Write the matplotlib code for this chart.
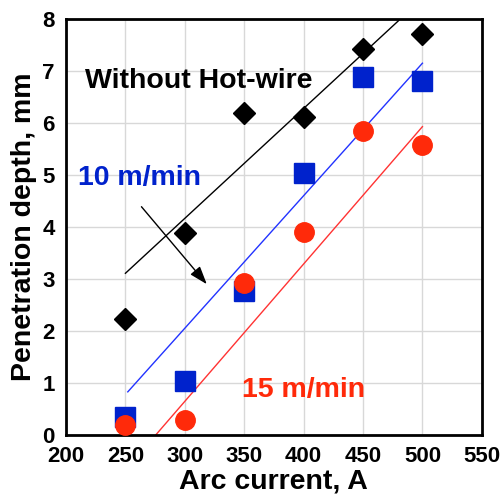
import matplotlib.pyplot as plt

plt.rcParams['font.family'] = ['Liberation Sans', 'DejaVu Sans']
plt.rcParams['font.weight'] = 'bold'

# --- Data ---
current = [250, 300, 350, 400, 450, 500]
depth_no_wire = [2.24, 3.88, 6.19, 6.11, 7.42, 7.72]
depth_10 = [0.35, 1.03, 2.76, 5.03, 6.89, 6.81]
depth_15 = [0.19, 0.28, 2.92, 3.91, 5.85, 5.58]

# trend lines (end points as drawn in the figure)
fit_no_wire_x = [250, 480]
fit_no_wire_y = [3.11, 7.97]
fit_10_x = [252, 500]
fit_10_y = [0.83, 7.15]
fit_15_x = [275.5, 500]
fit_15_y = [0.0, 5.93]

blue = '#0022cc'
red = '#ff2a0a'

fig = plt.figure(figsize=(5.04, 5.0), dpi=100)
ax = fig.add_axes([0.131, 0.13, 0.825, 0.832])

ax.plot(fit_no_wire_x, fit_no_wire_y, color='black', lw=1.0, zorder=2)
ax.plot(fit_10_x, fit_10_y, color='#2233ff', lw=1.0, zorder=2)
ax.plot(fit_15_x, fit_15_y, color='#ff3333', lw=1.0, zorder=2)

ax.plot(current, depth_no_wire, 'D', color='black', markersize=11.5, zorder=3)
ax.plot(current, depth_10, 's', color=blue, markersize=15, zorder=3)
ax.plot(current, depth_15, 'o', color=red, markersize=14, zorder=4)

ax.text(216, 6.81, 'Without Hot-wire', fontsize=20.5, fontweight='bold',
        color='black', va='center', ha='left')
ax.text(210.5, 4.95, '10 m/min', fontsize=20.5, fontweight='bold',
        color=blue, va='center', ha='left')
ax.text(348, 0.87, '15 m/min', fontsize=20.5, fontweight='bold',
        color=red, va='center', ha='left')

ax.annotate('', xy=(318.5, 2.9), xytext=(263.5, 4.39),
            arrowprops=dict(arrowstyle='-|>,head_length=1.1,head_width=0.38',
                            color='black', lw=1.0, shrinkA=0, shrinkB=0))

ax.set_xlim(200, 550)
ax.set_ylim(0, 8)
ax.set_xticks(range(200, 551, 50))
ax.set_yticks(range(0, 9))
ax.tick_params(length=0, labelsize=16, pad=8)
for lab in ax.get_xticklabels() + ax.get_yticklabels():
    lab.set_fontweight('bold')
ax.grid(True, color='#d8d8d8', lw=1.0)
ax.set_axisbelow(True)
for sp in ax.spines.values():
    sp.set_linewidth(2)
    sp.set_color('black')

ax.set_xlabel('Arc current, A', fontsize=20.5, fontweight='bold', labelpad=1)
ax.set_ylabel('Penetration depth, mm', fontsize=20.5, fontweight='bold', labelpad=4)

fig.savefig('out.png', dpi=100)
